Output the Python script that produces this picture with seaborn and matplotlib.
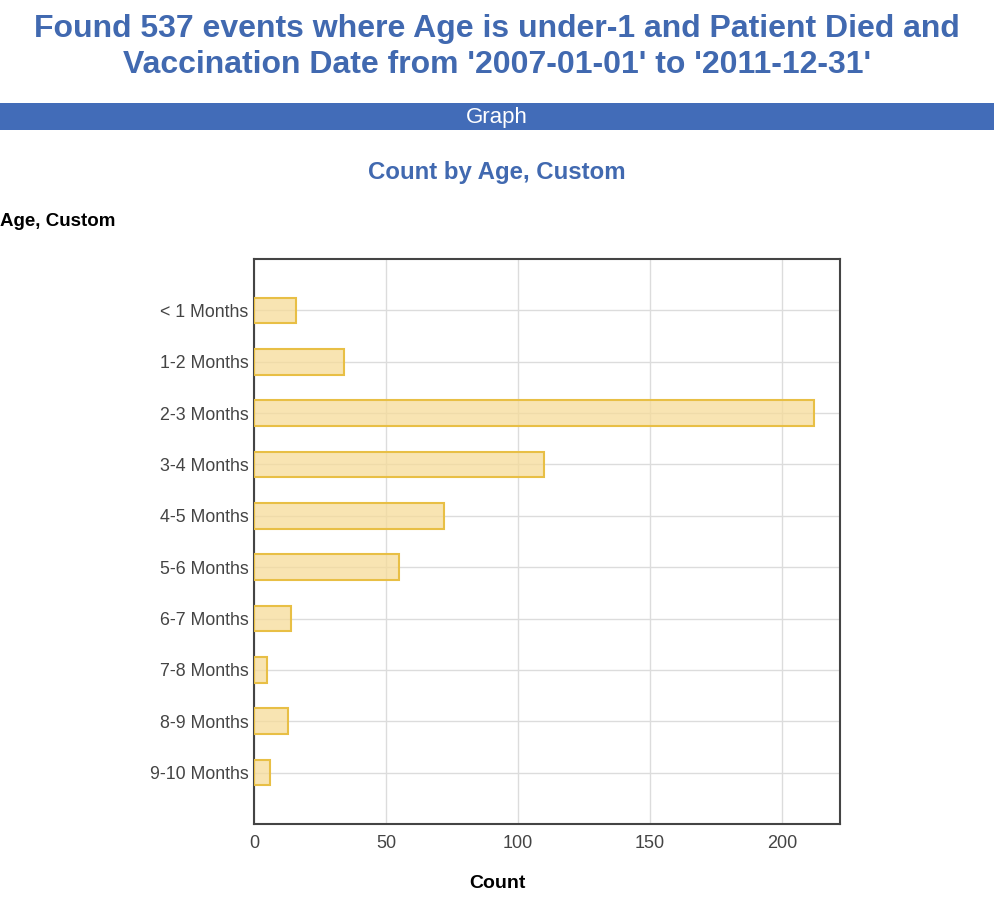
import matplotlib
matplotlib.use("Agg")
import matplotlib.pyplot as plt
import seaborn as sns
import pandas as pd
from matplotlib.patches import Rectangle

categories = ["< 1 Months", "1-2 Months", "2-3 Months", "3-4 Months", "4-5 Months",
              "5-6 Months", "6-7 Months", "7-8 Months", "8-9 Months", "9-10 Months"]
counts = [16, 34, 212, 110, 72, 55, 14, 5, 13, 6]
x_ticks = [0, 50, 100, 150, 200]

title_text = "Found 537 events where Age is under-1 and Patient Died and\nVaccination Date from '2007-01-01' to '2011-12-31'"
banner_text = "Graph"
chart_title = "Count by Age, Custom"
y_label = "Age, Custom"
x_label = "Count"

sns.set_theme(style="white")
plt.rcParams['font.family'] = ['Liberation Sans', 'DejaVu Sans']

df = pd.DataFrame({"age": categories, "count": counts})

fig = plt.figure(figsize=(9.94, 8.98), dpi=100)
blue = "#4169b0"

fig.text(0.5, 1 - 47 / 898, title_text, ha="center", va="center", fontsize=23,
         fontweight="bold", color=blue, linespacing=1.25)
fig.patches.append(Rectangle((0, 1 - 130 / 898), 1, 27 / 898, transform=fig.transFigure,
                             facecolor="#426cb8", edgecolor="none", zorder=0))
fig.text(0.5, 1 - 117 / 898, banner_text, ha="center", va="center", fontsize=16, color="white")
fig.text(0.5, 1 - 172 / 898, chart_title, ha="center", va="center", fontsize=17.3,
         fontweight="bold", color=blue)
fig.text(0.0, 1 - 222 / 898, y_label, ha="left", va="center", fontsize=13.5,
         fontweight="bold", color="black")
fig.text(0.5, 1 - 883 / 898, x_label, ha="center", va="center", fontsize=14,
         fontweight="bold", color="black")

ax = fig.add_axes([254 / 994, 74 / 898, 586 / 994, 565 / 898])
sns.barplot(data=df, y="age", x="count", orient="h", ax=ax, width=0.5,
            color="#f5dc98", edgecolor="#e8bf45", linewidth=1.5, zorder=3)
for p in ax.patches:
    p.set_edgecolor("#e8bf45")
    p.set_facecolor((0.965, 0.86, 0.6, 0.75))

ax.set_xlim(0, 222)
ax.set_ylim(10, -1)
ax.set_xticks(x_ticks)
ax.set_xticklabels([str(t) for t in x_ticks])
ax.grid(True, color="#dcdcdc", linewidth=1, zorder=0)
ax.set_axisbelow(True)
for s in ax.spines.values():
    s.set_color("#444444")
    s.set_linewidth(1.5)
ax.tick_params(axis="y", labelsize=12.8, colors="#444444", length=0, pad=4)
ax.tick_params(axis="x", labelsize=13, colors="#444444", length=4, color="#444444", pad=4)
ax.set_ylabel("")
ax.set_xlabel("")

fig.savefig("out.png", dpi=100)
